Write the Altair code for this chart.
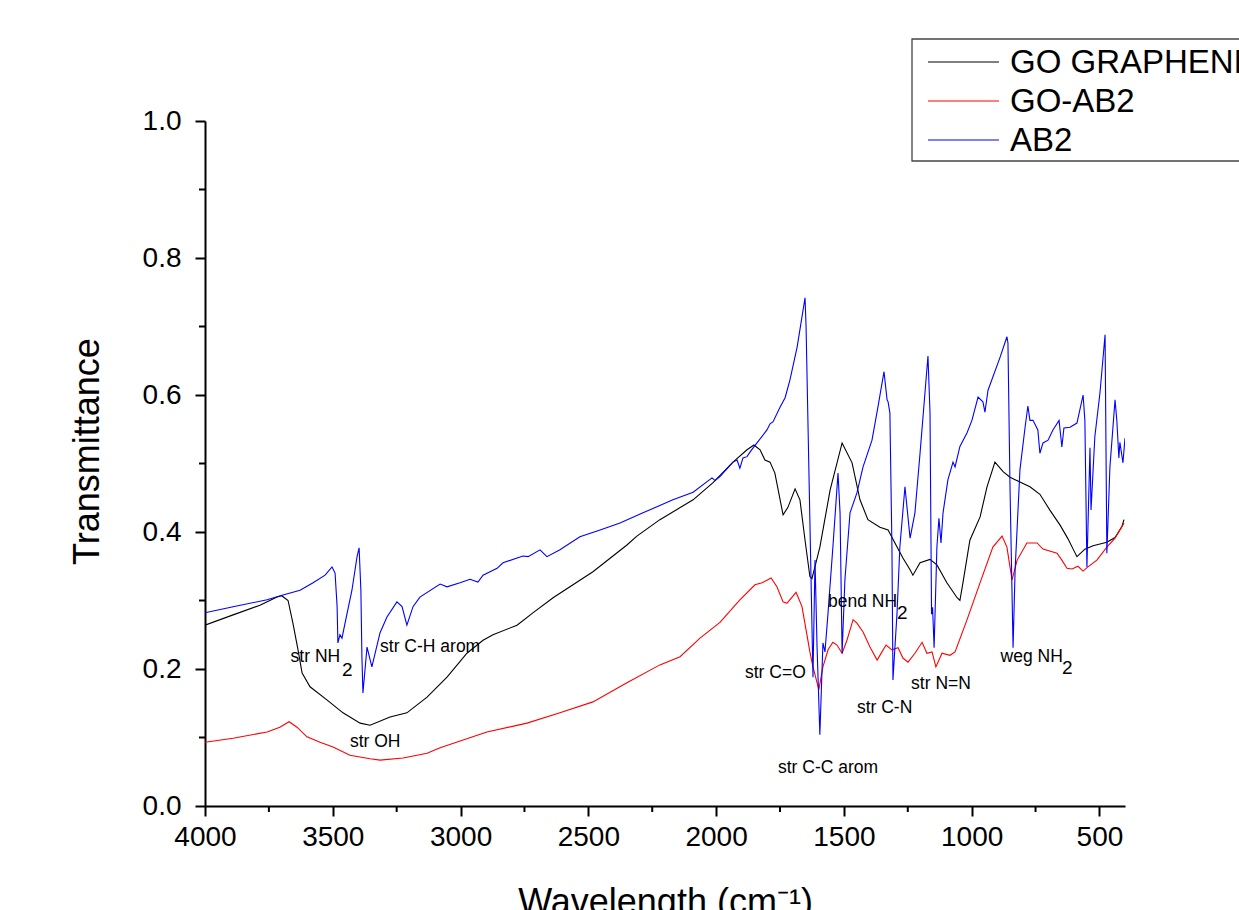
import altair as alt
import pandas as pd

# ---------------- data ----------------
SERIES = ["GO GRAPHENE", "GO-AB2", "AB2"]
COLORS = ["#000000", "#ff0000", "#0000ff"]

GO_WN = [4000, 3890, 3785, 3718, 3700, 3675, 3656, 3636, 3620, 3589, 3523, 3460, 3393, 3354,
         3276, 3210, 3131, 3053, 2975, 2912, 2873, 2779, 2717, 2638, 2482, 2349, 2310, 2220,
         2090, 2012, 1934, 1879, 1852, 1828, 1809, 1789, 1770, 1738, 1719, 1691, 1672, 1652,
         1633, 1625, 1594, 1554, 1507, 1468, 1437, 1406, 1359, 1327, 1292, 1269, 1241, 1230,
         1202, 1163, 1136, 1097, 1057, 1046, 1034, 1007, 967, 940, 909, 877, 850, 811, 772,
         733, 694, 654, 623, 603, 588, 557, 525, 471, 439, 412, 404]
GO_T = [0.264, 0.279, 0.293, 0.305, 0.307, 0.300, 0.267, 0.228, 0.194, 0.174, 0.155, 0.136, 0.121, 0.118,
        0.130, 0.136, 0.159, 0.188, 0.223, 0.242, 0.250, 0.264, 0.282, 0.304, 0.342, 0.381, 0.394, 0.418,
        0.447, 0.472, 0.502, 0.520, 0.527, 0.520, 0.505, 0.502, 0.486, 0.425, 0.436, 0.463, 0.447, 0.388,
        0.335, 0.332, 0.378, 0.461, 0.530, 0.501, 0.447, 0.418, 0.407, 0.403, 0.378, 0.362, 0.345, 0.337,
        0.355, 0.360, 0.352, 0.326, 0.304, 0.300, 0.326, 0.388, 0.422, 0.466, 0.502, 0.488, 0.480, 0.473, 0.466,
        0.455, 0.432, 0.410, 0.390, 0.375, 0.364, 0.375, 0.380, 0.385, 0.392, 0.408, 0.418]

GOAB2_WN = [4000, 3890, 3757, 3707, 3671, 3640, 3601, 3550, 3499, 3433, 3354, 3315, 3225, 3131,
            3080, 2897, 2740, 2611, 2482, 2349, 2220, 2141, 2063, 1985, 1907, 1848, 1820, 1785,
            1762, 1738, 1723, 1687, 1664, 1648, 1633, 1621, 1598, 1582, 1562, 1543, 1527, 1507,
            1488, 1464, 1449, 1425, 1398, 1370, 1351, 1335, 1312, 1288, 1269, 1249, 1222, 1194,
            1175, 1155, 1140, 1116, 1085, 1065, 1018, 967, 917, 881, 862, 850, 842, 822, 784,
            744, 721, 666, 647, 627, 607, 584, 564, 545, 510, 471, 439, 404]
GOAB2_T = [0.093, 0.099, 0.108, 0.115, 0.123, 0.115, 0.101, 0.093, 0.086, 0.074, 0.069, 0.067, 0.070, 0.077,
           0.085, 0.108, 0.121, 0.136, 0.152, 0.180, 0.206, 0.218, 0.245, 0.268, 0.301, 0.323, 0.326, 0.333,
           0.320, 0.298, 0.296, 0.312, 0.291, 0.257, 0.225, 0.203, 0.170, 0.203, 0.228, 0.239, 0.235, 0.223,
           0.242, 0.272, 0.267, 0.254, 0.232, 0.213, 0.225, 0.235, 0.228, 0.231, 0.216, 0.210, 0.223, 0.239,
           0.223, 0.225, 0.203, 0.223, 0.220, 0.225, 0.272, 0.326, 0.378, 0.394, 0.378, 0.349, 0.330, 0.359, 0.384,
           0.384, 0.375, 0.369, 0.359, 0.347, 0.346, 0.350, 0.343, 0.349, 0.359, 0.378, 0.391, 0.413]

AB2_WN = [4000, 3890, 3757, 3695, 3628, 3577, 3530, 3503, 3491, 3483, 3480, 3472, 3464, 3452,
          3425, 3405, 3397, 3390, 3386, 3382, 3366, 3347, 3315, 3288, 3249, 3229, 3210, 3186,
          3159, 3080, 3053, 3002, 2963, 2932, 2912, 2857, 2834, 2756, 2736, 2689, 2662, 2611,
          2533, 2454, 2376, 2286, 2169, 2090, 2016, 2004, 1985, 1934, 1918, 1907, 1895, 1879,
          1867, 1840, 1801, 1789, 1777, 1750, 1730, 1711, 1683, 1664, 1652, 1648, 1621, 1613,
          1605, 1594, 1582, 1574, 1562, 1543, 1523, 1515, 1507, 1496, 1476, 1449, 1425, 1390,
          1367, 1343, 1331, 1327, 1320, 1312, 1308, 1292, 1281, 1261, 1241, 1222, 1202, 1171,
          1163, 1157, 1153, 1147, 1136, 1128, 1120, 1112, 1093, 1073, 1065, 1046, 1018, 999,
          975, 956, 948, 936, 889, 862, 858, 850, 838, 830, 811, 791, 780, 772, 760, 741, 733,
          721, 701, 682, 658, 647, 639, 615, 588, 564, 557, 549, 537, 533, 518, 498, 478, 471,
          459, 439, 432, 424, 420, 408, 400]
AB2_T = [0.282, 0.291, 0.301, 0.308, 0.315, 0.326, 0.337, 0.349, 0.340, 0.291, 0.238, 0.250, 0.245, 0.267,
         0.315, 0.364, 0.377, 0.315, 0.218, 0.165, 0.232, 0.203, 0.253, 0.276, 0.298, 0.291, 0.264, 0.291,
         0.305, 0.324, 0.320, 0.326, 0.331, 0.327, 0.337, 0.347, 0.355, 0.365, 0.364, 0.374, 0.364, 0.374,
         0.393, 0.403, 0.413, 0.428, 0.447, 0.458, 0.479, 0.475, 0.481, 0.502, 0.505, 0.493, 0.508, 0.510,
         0.517, 0.530, 0.549, 0.558, 0.561, 0.582, 0.596, 0.622, 0.670, 0.714, 0.742, 0.700, 0.188, 0.359,
         0.232, 0.104, 0.238, 0.225, 0.282, 0.378, 0.486, 0.428, 0.223, 0.330, 0.428, 0.457, 0.495, 0.534,
         0.582, 0.634, 0.593, 0.590, 0.574, 0.378, 0.184, 0.282, 0.378, 0.466, 0.391, 0.428, 0.515, 0.657,
         0.574, 0.280, 0.290, 0.231, 0.378, 0.420, 0.384, 0.428, 0.476, 0.502, 0.495, 0.525, 0.545, 0.563,
         0.597, 0.590, 0.575, 0.607, 0.655, 0.685, 0.676, 0.466, 0.231, 0.345, 0.491, 0.553, 0.584, 0.563, 0.563, 0.549, 0.515,
         0.530, 0.534, 0.549, 0.563, 0.524, 0.552, 0.553, 0.559, 0.600, 0.563, 0.349, 0.523, 0.432, 0.539, 0.603, 0.688, 0.369,
         0.495, 0.593, 0.563, 0.508, 0.531, 0.501, 0.537]

X_TICKS = [4000, 3500, 3000, 2500, 2000, 1500, 1000, 500]
X_MINOR = [3750, 3250, 2750, 2250, 1750, 1250, 750]
Y_TICKS = [0.0, 0.2, 0.4, 0.6, 0.8, 1.0]
Y_MINOR = [0.1, 0.3, 0.5, 0.7, 0.9]

ANN_TEXT = ["str NH", "str C-H arom", "str OH", "str C=O", "bend NH", "str C-N", "str N=N", "str C-C arom", "weg NH"]
ANN_WN = [3665, 3315, 3433, 1887, 1562, 1449, 1237, 1758, 887]
ANN_T = [0.2175, 0.232, 0.0934, 0.194, 0.298, 0.143, 0.178, 0.0555, 0.2175]
SUB_TEXT = ["2", "2", "2"]
SUB_WN = [3464, 1292, 647]
SUB_T = [0.1985, 0.282, 0.2015]

# ---------------- tables ----------------
rows = []
for name, wns, ts in zip(SERIES, [GO_WN, GOAB2_WN, AB2_WN], [GO_T, GOAB2_T, AB2_T]):
    for i, (w, t) in enumerate(zip(wns, ts)):
        rows.append({"series": name, "wn": w, "T": t, "order": i})
df = pd.DataFrame(rows)
ann = pd.DataFrame({"label": ANN_TEXT, "wn": ANN_WN, "T": ANN_T})
sub = pd.DataFrame({"label": SUB_TEXT, "wn": SUB_WN, "T": SUB_T})
xminor = pd.DataFrame({"wn": X_MINOR})
yminor = pd.DataFrame({"T": Y_MINOR})

FONT = "Liberation Sans"
xscale = alt.Scale(domain=[4000, 400], nice=False, zero=False)
yscale = alt.Scale(domain=[0, 1], nice=False, zero=False)
cscale = alt.Scale(domain=SERIES, range=COLORS)

lines = alt.Chart(df).mark_line(strokeWidth=1.1, clip=True).encode(
    x=alt.X("wn:Q", scale=xscale,
            axis=alt.Axis(values=X_TICKS, format="d", title="Wavelength (cm\u207b\u00b9)",
                          tickSize=10, labelPadding=7, titlePadding=34, labelFlush=False)),
    y=alt.Y("T:Q", scale=yscale,
            axis=alt.Axis(values=Y_TICKS, format=".1f", title="Transmittance",
                          tickSize=10, labelPadding=14, titlePadding=36, titleY=330)),
    color=alt.Color("series:N", scale=cscale, legend=None),
    order="order:Q",
)

xminor_rules = alt.Chart(xminor).mark_rule(color="black", strokeWidth=2).encode(
    x=alt.X("wn:Q", scale=xscale), y=alt.value(685), y2=alt.value(691))
yminor_rules = alt.Chart(yminor).mark_rule(color="black", strokeWidth=2).encode(
    y=alt.Y("T:Q", scale=yscale), x=alt.value(0), x2=alt.value(-6))

ann_text = alt.Chart(ann).mark_text(align="left", baseline="middle", fontSize=17.5,
                                    font=FONT, color="black").encode(
    x="wn:Q", y="T:Q", text="label:N")
sub_text = alt.Chart(sub).mark_text(align="left", baseline="middle", fontSize=19,
                                    font=FONT, color="black").encode(
    x="wn:Q", y="T:Q", text="label:N")

# ---------------- legend box (framed key in the top-right corner) ----------------
legend_box = alt.Chart(pd.DataFrame({"k": [0]})).mark_rect(
    fill="white", stroke="#444444", strokeWidth=1.3).encode(
    x=alt.value(707), x2=alt.value(1120), y=alt.value(-82), y2=alt.value(40))
legend_layers = [legend_box]
for i, name in enumerate(SERIES):
    d = pd.DataFrame({"series": [name]})
    yy = -59 + 39 * i
    legend_layers.append(alt.Chart(d).mark_rule(strokeWidth=1.2).encode(
        x=alt.value(723), x2=alt.value(794), y=alt.value(yy),
        color=alt.Color("series:N", scale=cscale, legend=None)))
    legend_layers.append(alt.Chart(d).mark_text(
        align="left", baseline="middle", fontSize=33, font=FONT, color="black").encode(
        x=alt.value(805), y=alt.value(yy + 1), text="series:N"))

chart = alt.layer(lines, xminor_rules, yminor_rules, ann_text, sub_text, *legend_layers).properties(
    width=920, height=685,
    autosize=alt.AutoSizeParams(type="none"),
    padding={"left": 205, "top": 121, "right": 114, "bottom": 104},
    background="white",
).configure_axis(
    labelFont=FONT, titleFont=FONT, labelFontSize=28, titleFontSize=36,
    titleFontWeight="normal", labelColor="black", titleColor="black",
    domainColor="black", domainWidth=2, tickColor="black", tickWidth=2, grid=False,
).configure_view(stroke=None)

chart.save("out.html", embed_options={"renderer": "svg", "actions": False})
